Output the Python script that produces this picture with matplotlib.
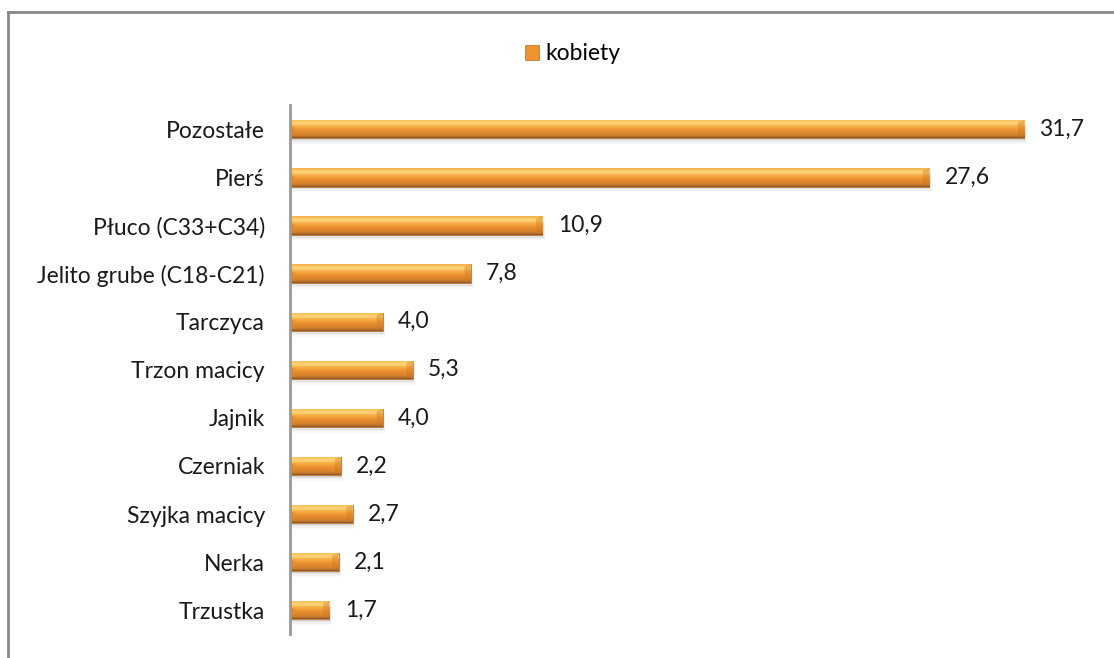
import numpy as np
import matplotlib.pyplot as plt
from matplotlib.colors import LinearSegmentedColormap
from matplotlib.patches import Rectangle, Polygon
from matplotlib.lines import Line2D

# data
categories = ["Pozostałe", "Pierś", "Płuco (C33+C34)", "Jelito grube (C18-C21)", "Tarczyca",
              "Trzon macicy", "Jajnik", "Czerniak", "Szyjka macicy", "Nerka", "Trzustka"]
values = [31.7, 27.6, 10.9, 7.8, 4.0, 5.3, 4.0, 2.2, 2.7, 2.1, 1.7]
series_name = "kobiety"

plt.rcParams['font.family'] = ['Lato', 'DejaVu Sans']

fig = plt.figure(figsize=(11.14, 6.58), dpi=100)
ax = fig.add_axes([0.2603, 0.036, 0.709, 0.804])

y = np.arange(len(categories))[::-1]
bars = ax.barh(y, values, height=0.38, color='#EC9432', edgecolor='#B86A22', linewidth=0.5,
               label=series_name, zorder=3)

# bevel-like vertical gradient, clipped to each bar
grad = np.linspace(0, 1, 64).reshape(-1, 1)
cmap = LinearSegmentedColormap.from_list('bevel', [
    (0.0, '#7E5230'), (0.07, '#B8702A'), (0.16, '#D5822A'), (0.42, '#EB9232'),
    (0.62, '#F5AE46'), (0.78, '#FFD67E'), (0.9, '#FCC860'), (1.0, '#F2AC4C')])
bevel_w = 0.27
for bar in bars:
    x0, y0 = bar.get_x(), bar.get_y()
    w, hh = bar.get_width(), bar.get_height()
    im = ax.imshow(grad, cmap=cmap, origin='lower', aspect='auto', interpolation='bilinear',
                   extent=[x0, x0 + w, y0, y0 + hh], zorder=3.5)
    im.set_clip_path(bar)
    # right end bevel
    ax.add_patch(Polygon([(x0 + w - bevel_w, y0 + hh * 0.88), (x0 + w, y0 + hh),
                          (x0 + w, y0), (x0 + w - bevel_w, y0 + hh * 0.15)],
                         closed=True, facecolor='#C9741F', alpha=0.35, lw=0, zorder=3.7))
    # left end notch
    ax.add_patch(Polygon([(x0, y0 + hh * 0.8), (x0 + bevel_w * 0.7, y0 + hh * 0.5),
                          (x0, y0 + hh * 0.2)],
                         closed=True, facecolor='#D27A22', alpha=0.6, lw=0, zorder=3.7))
    # soft shadow under the bar
    for k, a in zip(range(1, 5), [0.14, 0.1, 0.06, 0.04]):
        ax.add_patch(Rectangle((x0 + 0.03 * k, y0 - 0.03 * k), w, hh,
                               facecolor='#707070', alpha=a, lw=0, zorder=2))

for v, yi in zip(values, y):
    ax.annotate(f"{v:.1f}".replace('.', ','), xy=(v, yi), xytext=(11, 0),
                textcoords='offset points', va='center', ha='left', fontsize=16.5, color='#1a1a1a')

ax.set_xlim(0, 34.1)
ax.set_ylim(-0.5, 10.5)
ax.set_yticks(y)
ax.set_yticklabels(categories, fontsize=16.5, color='#1a1a1a')
ax.tick_params(axis='y', length=0, pad=18)
ax.set_xticks([])
for s in ['top', 'right', 'bottom']:
    ax.spines[s].set_visible(False)
ax.spines['left'].set_color('#999999')
ax.spines['left'].set_linewidth(2)
ax.spines['left'].set_zorder(5)

fig.legend(handles=[bars], loc='center', bbox_to_anchor=(0.514, 0.918), frameon=False,
           fontsize=16.5, handlelength=0.6, handleheight=0.6, handletextpad=0.3)

# outer frame (only top and left edges visible)
fig.add_artist(Line2D([0.0076, 1], [0.9825, 0.9825], transform=fig.transFigure, color='#888888', lw=2))
fig.add_artist(Line2D([0.0076, 0.0076], [0, 0.9825], transform=fig.transFigure, color='#888888', lw=2))

fig.savefig('out.png', dpi=100)
